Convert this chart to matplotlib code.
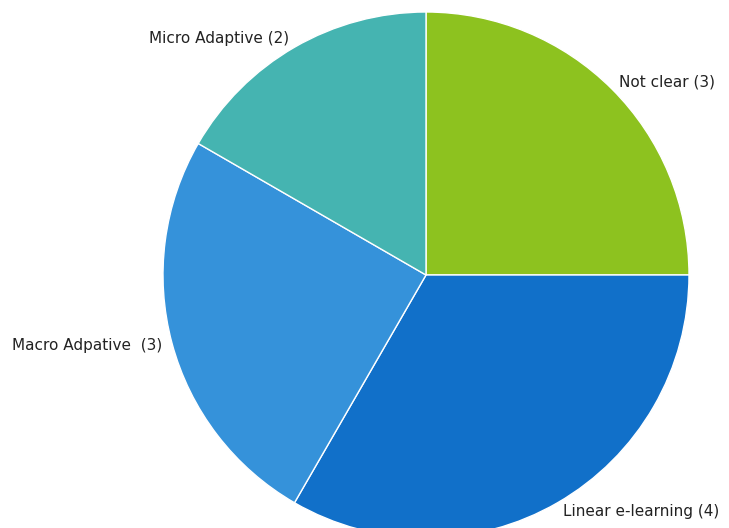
import matplotlib
matplotlib.use("Agg")
import matplotlib.pyplot as plt

# slices, clockwise from 12 o'clock
labels = ["Not clear (3)", "Linear e-learning (4)", "Macro Adpative  (3)", "Micro Adaptive (2)"]
counts = [3, 4, 3, 2]
colors = ["#8DC21F", "#1170C9", "#3592DA", "#45B4B1"]

cx, cy, r = 426, 253, 263

fig = plt.figure(figsize=(7.29, 5.28), dpi=100)
ax = fig.add_axes([0, 0, 1, 1])

# pixel-ish coordinates so the pie sits where it does in the picture
wedges, texts = ax.pie(
    counts,
    labels=labels,
    colors=colors,
    startangle=90,
    counterclock=False,
    center=(cx, cy),
    radius=r,
    labeldistance=1.04,
    wedgeprops={"edgecolor": "white", "linewidth": 1},
    textprops={"fontsize": 11, "color": "#222222"},
)

# pie picks alignment from the absolute x, so redo it relative to the centre
for t in texts:
    x, y = t.get_position()
    t.set_ha("left" if x > cx else "right")

ax.set_xlim(0, 729)
ax.set_ylim(0, 528)
ax.set_aspect("equal")
ax.axis("off")

fig.savefig("out.png", dpi=100)
